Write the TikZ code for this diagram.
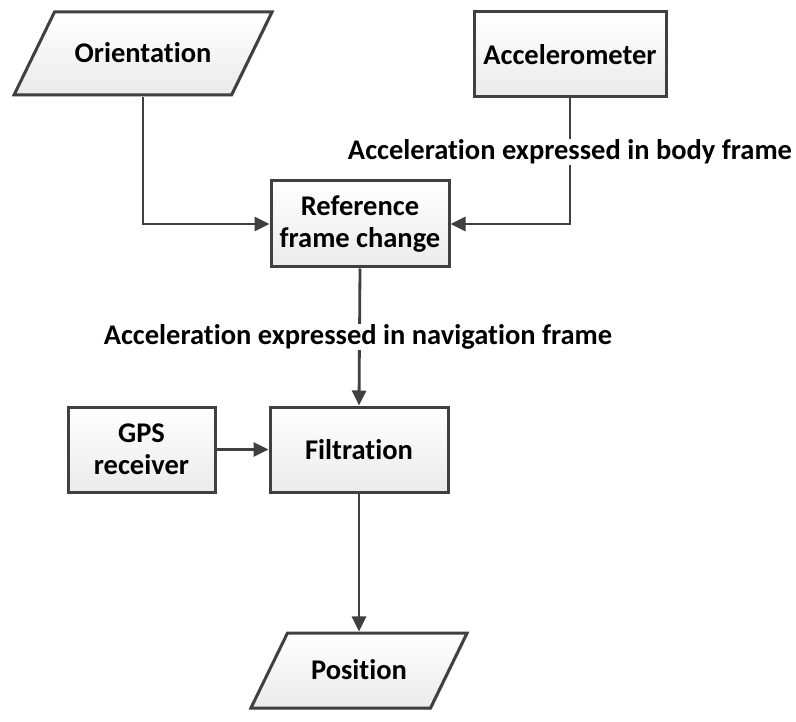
\documentclass[tikz,border=0pt]{standalone}
\usepackage{fontspec}
\setmainfont[Ligatures=NoCommon]{Carlito}
\usetikzlibrary{arrows.meta,shapes.geometric,shadows}

\begin{document}
\begin{tikzpicture}[x=1pt,y=-1pt,
  box/.style={draw=black!75,line width=3pt,top color=white,bottom color=gray!16,align=center,
    font=\bfseries\fontsize{28.5}{32}\selectfont,inner sep=0pt,
    drop shadow={shadow xshift=1.5pt,shadow yshift=-1.5pt,opacity=0.25}},
  io/.style={box,trapezium,trapezium left angle=64,trapezium right angle=116},
  lbl/.style={font=\bfseries\fontsize{28.5}{32}\selectfont,inner sep=1pt,fill=white},
  flow/.style={draw=black!75,line width=2.8pt,-{Triangle[length=15pt,width=14pt]}}]
\useasboundingbox (0,0) rectangle (796,722);
% inputs
\node[io,text width=177pt,text height=50.5pt,text depth=32.5pt] (orient) at (143,53.5) {Orientation};
\node[box,minimum width=192,minimum height=85] (accel) at (570,54.5) {Accelerometer};
% processing
\node[box,minimum width=178,minimum height=86] (refchg) at (360,224) {Reference\\frame change};
\node[box,minimum width=178,minimum height=85] (filt) at (359,449.5) {Filtration};
\node[box,minimum width=147,minimum height=85] (gps) at (141.5,449.5) {GPS\\receiver};
% output
\node[io,text width=143pt,text height=46.5pt,text depth=28.5pt] (pos) at (359,670.5) {Position};
% connectors
\draw[flow] (orient.south) |- (refchg.west);
\draw[flow] (accel.south) |- (refchg.east);
\draw[flow] (refchg.south) -- (filt.north);
\draw[flow] (gps.east) -- (filt.west);
\draw[flow] (filt.south) -- (pos.north);
% labels on the lines
\node[lbl] (bodylbl) at (570,152) {Acceleration expressed in body frame};
\node[lbl] (navlbl) at (358,337) {Acceleration expressed in navigation frame};
\end{tikzpicture}
\end{document}
